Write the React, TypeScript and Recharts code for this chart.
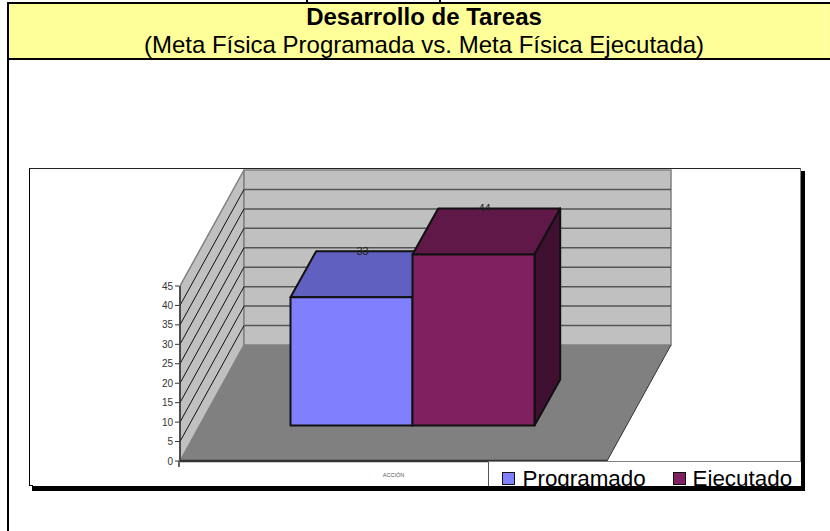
import {
  BarChart,
  Bar,
  XAxis,
  YAxis,
  CartesianGrid,
  Legend,
  LabelList,
  ReferenceArea,
} from 'recharts';

const categories = ['ACCIÓN'];
const programado = [33];
const ejecutado = [44];
const yTicks = [0, 5, 10, 15, 20, 25, 30, 35, 40, 45];

const chartData = categories.map((name, i) => ({
  name,
  programado: programado[i],
  ejecutado: ejecutado[i],
}));

// depth of the floor and of the boxes, px
const FLOOR_DX = 64;
const FLOOR_DY = -116;
const BOX_DX = 25.7;
const BOX_DY = -46;
const SHIFT_X = 19;
const SHIFT_Y = -35.5;

const FONT = '"Liberation Sans", Arial, sans-serif';

const Walls = ({ x, y, width, height }: any) => {
  const bottom = y + height;
  const right = x + width;
  return (
    <g>
      <polygon
        points={`${x},${bottom} ${x + FLOOR_DX},${bottom + FLOOR_DY} ${x + FLOOR_DX},${y + FLOOR_DY} ${x},${y}`}
        fill="#C0C0C0"
        stroke="#808080"
        strokeWidth={1.5}
      />
      <rect
        x={x + FLOOR_DX}
        y={y + FLOOR_DY}
        width={width}
        height={height}
        fill="#C0C0C0"
        stroke="#808080"
        strokeWidth={1.5}
      />
      <polygon
        points={`${x},${bottom} ${x + FLOOR_DX},${bottom + FLOOR_DY} ${right + FLOOR_DX},${bottom + FLOOR_DY} ${right},${bottom}`}
        fill="#808080"
      />
      <line x1={right} y1={bottom} x2={right + FLOOR_DX} y2={bottom + FLOOR_DY} stroke="#333" />
    </g>
  );
};

const WallLine = ({ x1, x2, y1 }: any) => {
  if (Math.abs(y1 - 286) < 1 || Math.abs(y1 - 461) < 1) return <g />;
  return (
    <g>
      <line x1={x1} y1={y1} x2={x1 + FLOOR_DX} y2={y1 + FLOOR_DY} stroke="#111" strokeWidth={1} />
      <line
        x1={x1 + FLOOR_DX}
        y1={y1 + FLOOR_DY}
        x2={x2 + FLOOR_DX}
        y2={y1 + FLOOR_DY}
        stroke="#555"
        strokeWidth={1.5}
      />
    </g>
  );
};

const makeBox = (top: string, side: string) => (props: any) => {
  const { x, y, width, height, fill } = props;
  const fx = x + SHIFT_X;
  const fy = y + SHIFT_Y;
  return (
    <g stroke="#111" strokeWidth={2} strokeLinejoin="round">
      <polygon
        points={`${fx},${fy} ${fx + BOX_DX},${fy + BOX_DY} ${fx + width + BOX_DX},${fy + BOX_DY} ${fx + width},${fy}`}
        fill={top}
      />
      <polygon
        points={`${fx + width},${fy} ${fx + width + BOX_DX},${fy + BOX_DY} ${fx + width + BOX_DX},${fy + height + BOX_DY} ${fx + width},${fy + height}`}
        fill={side}
      />
      <rect x={fx} y={fy} width={width} height={height} fill={fill} />
    </g>
  );
};

const ProgramadoBox = makeBox('#6060C0', '#404080');
const EjecutadoBox = makeBox('#601848', '#401030');

const BoxLabel = ({ x, y, width, value }: any) => (
  <text
    x={x + width / 2 + SHIFT_X + 11}
    y={y + SHIFT_Y + BOX_DY + 4}
    textAnchor="middle"
    fontSize={11}
    fontFamily={FONT}
    fill="#222"
  >
    {value}
  </text>
);

const YTick = ({ x, y, payload }: any) => (
  <g>
    <line x1={x + 1} y1={y} x2={x + 5} y2={y} stroke="#333" />
    {payload.value === 0 && <line x1={x + 5} y1={y} x2={x + 5} y2={y + 6} stroke="#333" strokeWidth={1.5} />}
    <text x={x - 1} y={y + 3.5} textAnchor="end" fontSize={10} fontFamily={FONT} fill="#333">
      {payload.value}
    </text>
  </g>
);

const legendOffsets = [
  { swatch: 13, text: 33.5 },
  { swatch: 184, text: 203.5 },
];

const LegendBox = ({ payload }: any) => (
  <div style={{ position: 'relative', width: '100%', height: '100%' }}>
    {(payload || []).map((item: any, i: number) => (
      <div key={item.value}>
        <span
          style={{
            position: 'absolute',
            left: legendOffsets[i].swatch,
            top: 10,
            width: 11,
            height: 11,
            background: item.color,
            border: '1.5px solid #111',
          }}
        />
        <span
          style={{
            position: 'absolute',
            left: legendOffsets[i].text,
            top: 4,
            fontSize: 22.4,
            lineHeight: '25px',
            fontFamily: FONT,
            color: '#000',
            whiteSpace: 'nowrap',
          }}
        >
          {item.value}
        </span>
      </div>
    ))}
  </div>
);

function Rule({ style }: { style: any }) {
  return <div style={{ position: 'absolute', background: '#000', ...style }} />;
}

export default function App() {
  return (
    <div
      style={{
        position: 'absolute',
        left: 0,
        top: 0,
        width: 830,
        height: 531,
        overflow: 'hidden',
        background: '#fff',
        fontFamily: FONT,
      }}
    >
      {/* cabecera */}
      <div style={{ position: 'absolute', left: 9, top: 4, width: 821, height: 54, background: '#FFFF99' }} />
      <div style={{ position: 'absolute', left: 825, top: 4, width: 1, height: 54, background: '#FFFFCC' }} />
      <Rule style={{ left: 7, top: 2, width: 823, height: 2 }} />
      <Rule style={{ left: 7, top: 58, width: 823, height: 2 }} />
      <Rule style={{ left: 7, top: 2, width: 2, height: 529 }} />
      <Rule style={{ left: 306, top: 0, width: 2, height: 2 }} />
      <Rule style={{ left: 439, top: 0, width: 2, height: 2 }} />
      <div
        style={{
          position: 'absolute',
          left: 9,
          top: 4,
          width: 830,
          textAlign: 'center',
          fontSize: 24,
          lineHeight: '25px',
          fontWeight: 'bold',
          color: '#000',
          whiteSpace: 'nowrap',
        }}
      >
        Desarrollo de Tareas
      </div>
      <div
        style={{
          position: 'absolute',
          left: 9,
          top: 32,
          width: 830,
          textAlign: 'center',
          fontSize: 24,
          lineHeight: '25px',
          color: '#000',
          whiteSpace: 'nowrap',
        }}
      >
        (Meta Física Programada vs. Meta Física Ejecutada)
      </div>

      {/* marco del gráfico */}
      <Rule style={{ left: 32, top: 171, width: 773, height: 320 }} />
      <div
        style={{
          position: 'absolute',
          left: 29,
          top: 168,
          width: 772,
          height: 318,
          boxSizing: 'border-box',
          background: '#fff',
          borderTop: '1px solid #222',
          borderLeft: '1px solid #000',
          borderRight: '1px solid #808080',
        }}
      />
      <Rule style={{ left: 29, top: 485, width: 4, height: 1 }} />

      <div style={{ position: 'absolute', left: 0, top: 0 }}>
        <BarChart
          width={830}
          height={531}
          data={chartData}
          margin={{ top: 286, right: 223, bottom: 40, left: 150 }}
          barCategoryGap={91.5}
          barGap={0}
        >
          <ReferenceArea
            y1={0}
            y2={45}
            ifOverflow="visible"
            shape={<Walls />}
            zIndex={-200}
            isFront={false}
          />
          <CartesianGrid vertical={false} horizontal={(p: any) => <WallLine key={p.key ?? p.y1} {...p} />} stroke="none" />
          <XAxis
            dataKey="name"
            height={30}
            tickLine={false}
            axisLine={{ stroke: '#333', strokeWidth: 2.5 }}
            tick={{ fontSize: 5.5, fontFamily: FONT, fill: '#555', dy: 4 }}
          />
          <YAxis
            width={30}
            domain={[0, 45]}
            ticks={yTicks}
            interval={0}
            tickLine={false}
            axisLine={{ stroke: '#333', strokeWidth: 1.5 }}
            tick={<YTick />}
            tickMargin={0}
          />
          <Bar
            dataKey="programado"
            name="Programado"
            fill="#8080FF"
            shape={<ProgramadoBox />}
            isAnimationActive={false}
          >
            <LabelList dataKey="programado" content={<BoxLabel />} />
          </Bar>
          <Bar
            dataKey="ejecutado"
            name="Ejecutado"
            fill="#802060"
            shape={<EjecutadoBox />}
            isAnimationActive={false}
          >
            <LabelList dataKey="ejecutado" content={<BoxLabel />} />
          </Bar>
          <Legend
            layout="horizontal"
            verticalAlign="middle"
            align="center"
            itemSorter={null}
            content={<LegendBox />}
            wrapperStyle={{
              position: 'absolute',
              left: 488,
              top: 461,
              width: 313,
              height: 25,
              boxSizing: 'border-box',
              background: '#fff',
              borderLeft: '1px solid #555',
              borderTop: '1px solid #808080',
              overflow: 'hidden',
            }}
          />
        </BarChart>
      </div>
    </div>
  );
}
